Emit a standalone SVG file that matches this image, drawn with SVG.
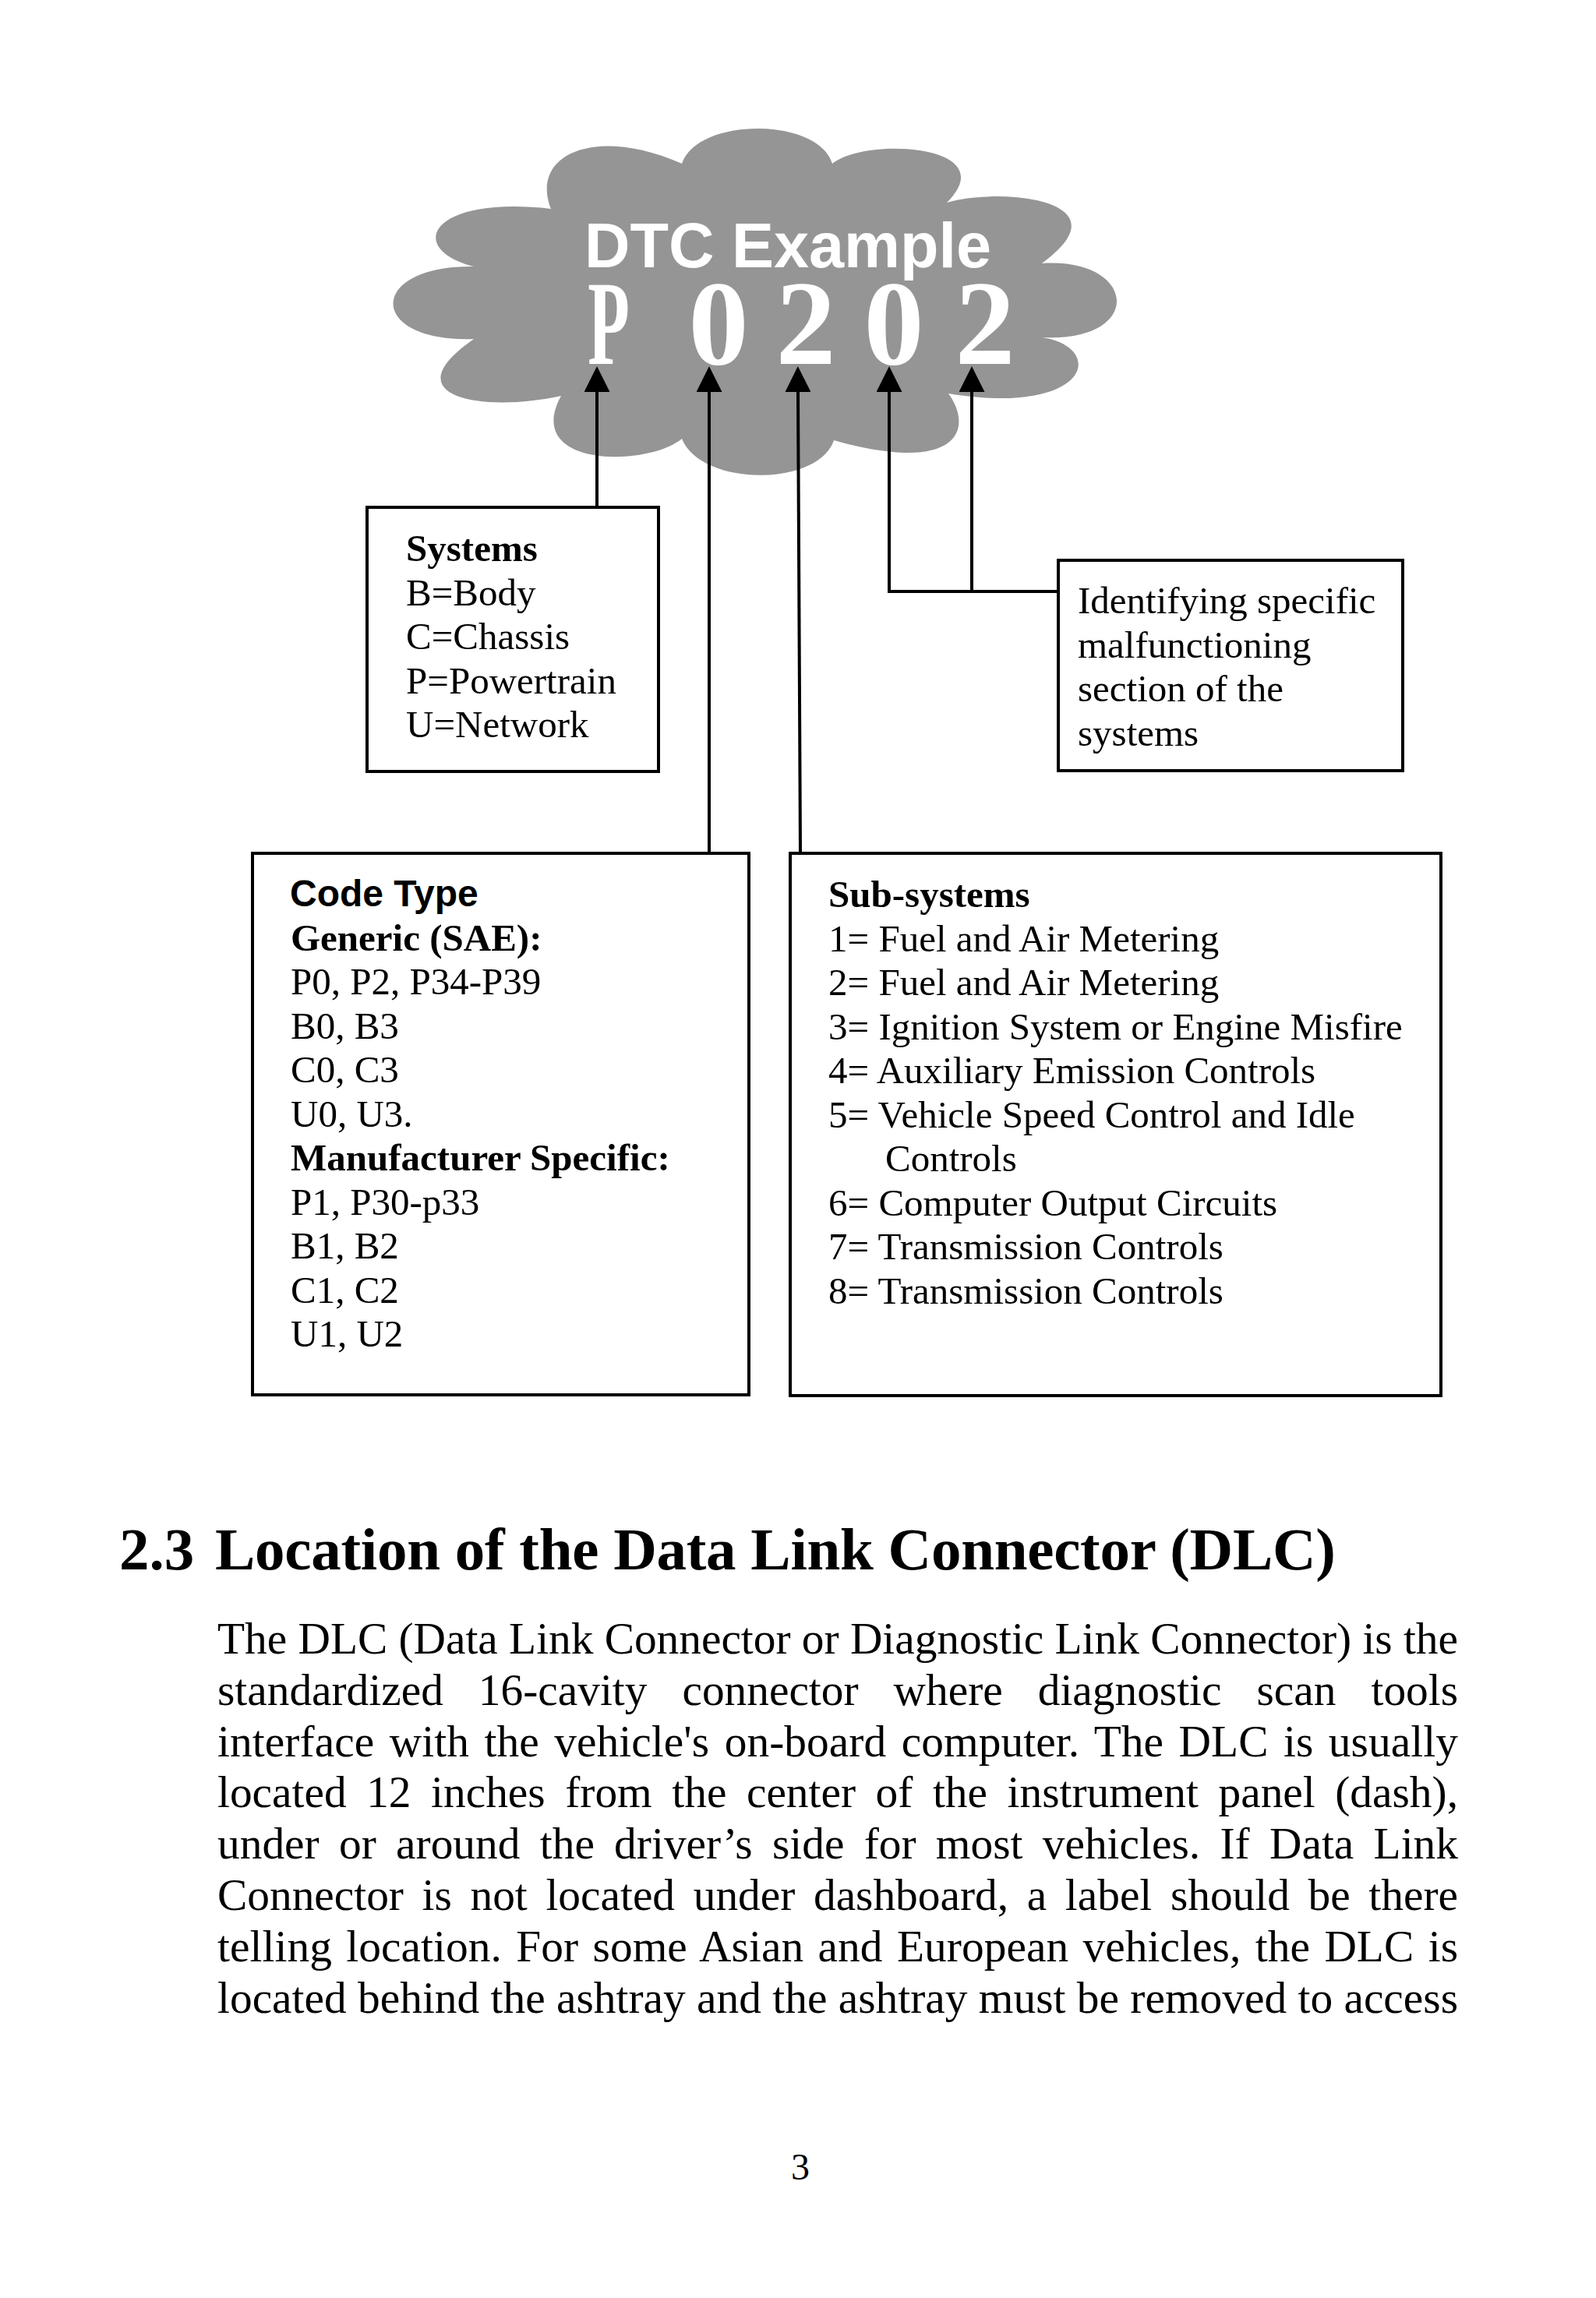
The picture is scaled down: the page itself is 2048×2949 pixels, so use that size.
<svg xmlns="http://www.w3.org/2000/svg" width="2048" height="2949" viewBox="0 0 2048 2949">
<style>
.serif { font-family: "Liberation Serif", "Times New Roman", serif; fill: #000; }
.sans { font-family: "Liberation Sans", Arial, sans-serif; }
.box { fill: #fff; stroke: #000; stroke-width: 4; }
.conn { fill: none; stroke: #000; stroke-width: 4; }
.t49 { font-size: 49px; }
.b { font-weight: bold; }
.body { font-size: 57.4px; }
.code { font-family: "Liberation Serif", "Times New Roman", serif; font-weight: bold; font-size: 154px; fill: #fff; }
</style>
<defs>
<marker id="arrow" viewBox="0 0 33 33" refX="0" refY="16.5" markerWidth="33" markerHeight="33" markerUnits="userSpaceOnUse" orient="auto">
<path d="M0,0 L33,16.5 L0,33 Z" fill="#000"/>
</marker>
</defs>
<rect width="2048" height="2949" fill="#fff"/>

<g id="cloud">
<path fill="#959595" d="M875,210 C895,150 1050,150 1068,210 C1110,175 1290,185 1215,260 C1280,240 1450,255 1337,338 C1460,330 1470,440 1337,433 C1420,445 1400,535 1217,505 C1250,550 1230,610 1070,565 C1050,625 900,625 875,563 C830,600 670,600 720,508 C620,530 500,510 608,435 C470,440 470,340 608,342 C520,320 550,250 707,268 C680,200 760,160 875,210 Z"/>
<text class="sans b" x="750" y="343" font-size="81" fill="#fff">DTC Example</text>
<text class="code" text-anchor="middle" transform="translate(781,467) scale(0.57,1)">P</text>
<text class="code" text-anchor="middle" x="922" y="467">0</text>
<text class="code" text-anchor="middle" x="1034" y="467">2</text>
<text class="code" text-anchor="middle" x="1147" y="467">0</text>
<text class="code" text-anchor="middle" x="1264" y="467">2</text>
</g>

<g id="connectors">
<path class="conn" d="M766,651 L766,503" marker-end="url(#arrow)"/>
<path class="conn" d="M910,1095 L910,503" marker-end="url(#arrow)"/>
<path class="conn" d="M1027,1095 L1024,503" marker-end="url(#arrow)"/>
<path class="conn" d="M1358,759 L1141,759 L1141,503" marker-end="url(#arrow)"/>
<path class="conn" d="M1247,759 L1247,503" marker-end="url(#arrow)"/>
</g>

<g id="systems">
<rect class="box" x="471" y="651" width="374" height="339"/>
<text class="serif t49" x="521">
<tspan class="b" x="521" y="720">Systems</tspan>
<tspan x="521" y="777">B=Body</tspan>
<tspan x="521" y="833">C=Chassis</tspan>
<tspan x="521" y="890">P=Powertrain</tspan>
<tspan x="521" y="946">U=Network</tspan>
</text>
</g>

<g id="section">
<rect class="box" x="1358" y="719" width="442" height="270"/>
<text class="serif t49">
<tspan x="1383" y="787">Identifying specific</tspan>
<tspan x="1383" y="844">malfunctioning</tspan>
<tspan x="1383" y="900">section of the</tspan>
<tspan x="1383" y="957">systems</tspan>
</text>
</g>

<g id="codetype">
<rect class="box" x="324" y="1095" width="637" height="695"/>
<text class="sans b" x="372" y="1163" font-size="48">Code Type</text>
<text class="serif t49">
<tspan class="b" x="373" y="1220">Generic (SAE):</tspan>
<tspan x="373" y="1276">P0, P2, P34-P39</tspan>
<tspan x="373" y="1333">B0, B3</tspan>
<tspan x="373" y="1389">C0, C3</tspan>
<tspan x="373" y="1446">U0, U3.</tspan>
<tspan class="b" x="373" y="1502">Manufacturer Specific:</tspan>
<tspan x="373" y="1559">P1, P30-p33</tspan>
<tspan x="373" y="1615">B1, B2</tspan>
<tspan x="373" y="1672">C1, C2</tspan>
<tspan x="373" y="1728">U1, U2</tspan>
</text>
</g>

<g id="subsystems">
<rect class="box" x="1014" y="1095" width="835" height="696"/>
<text class="serif t49">
<tspan class="b" x="1063" y="1164">Sub-systems</tspan>
<tspan x="1063" y="1221">1= Fuel and Air Metering</tspan>
<tspan x="1063" y="1277">2= Fuel and Air Metering</tspan>
<tspan x="1063" y="1334">3= Ignition System or Engine Misfire</tspan>
<tspan x="1063" y="1390">4= Auxiliary Emission Controls</tspan>
<tspan x="1063" y="1447">5= Vehicle Speed Control and Idle</tspan>
<tspan x="1136" y="1503">Controls</tspan>
<tspan x="1063" y="1560">6= Computer Output Circuits</tspan>
<tspan x="1063" y="1616">7= Transmission Controls</tspan>
<tspan x="1063" y="1673">8= Transmission Controls</tspan>
</text>
</g>

<g id="heading">
<text class="serif b" font-size="77" x="153" y="2014">2.3</text>
<text class="serif b" font-size="77" x="276" y="2014" textLength="1438" lengthAdjust="spacing">Location of the Data Link Connector (DLC)</text>
</g>

<g id="paragraph" class="serif body">
<text x="279" y="2122" textLength="1592" lengthAdjust="spacing">The DLC (Data Link Connector or Diagnostic Link Connector) is the</text>
<text x="279" y="2188" word-spacing="30.7" textLength="1592" lengthAdjust="spacing">standardized 16-cavity connector where diagnostic scan tools</text>
<text x="279" y="2254" word-spacing="5.1" textLength="1592" lengthAdjust="spacing">interface with the vehicle's on-board computer. The DLC is usually</text>
<text x="279" y="2319" word-spacing="11.2" textLength="1592" lengthAdjust="spacing">located 12 inches from the center of the instrument panel (dash),</text>
<text x="279" y="2385" word-spacing="10.9" textLength="1592" lengthAdjust="spacing">under or around the driver’s side for most vehicles. If Data Link</text>
<text x="279" y="2451" word-spacing="9.3" textLength="1592" lengthAdjust="spacing">Connector is not located under dashboard, a label should be there</text>
<text x="279" y="2517" word-spacing="4" textLength="1592" lengthAdjust="spacing">telling location. For some Asian and European vehicles, the DLC is</text>
<text x="279" y="2583" textLength="1592" lengthAdjust="spacing">located behind the ashtray and the ashtray must be removed to access</text>
</g>

<g id="page-number">
<text class="serif" font-size="48" x="1027" y="2797" text-anchor="middle">3</text>
</g>
</svg>
